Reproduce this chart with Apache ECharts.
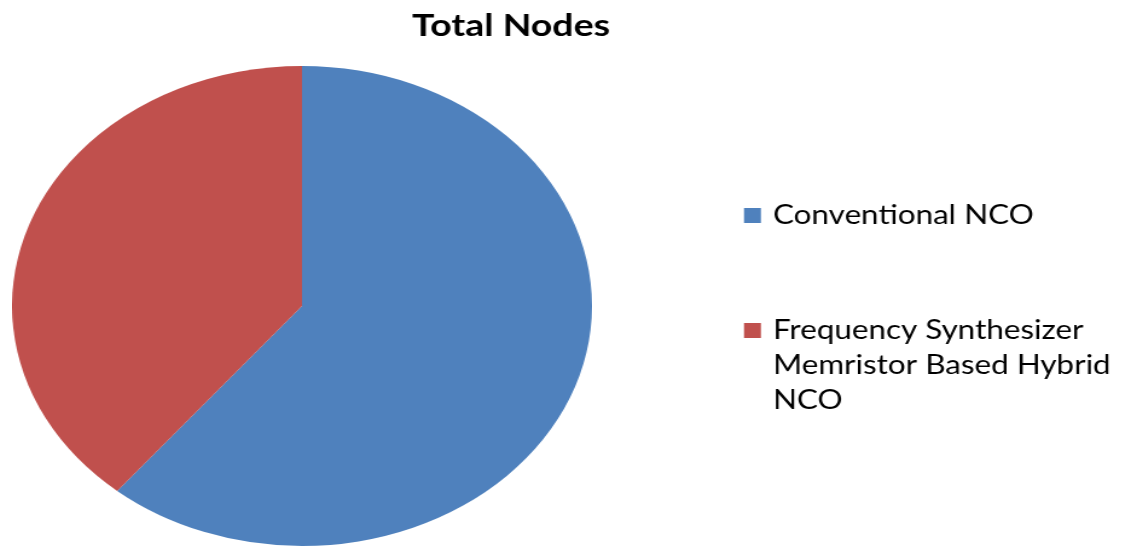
<!DOCTYPE html>
<html>
<head>
<meta charset="utf-8">
<script src="https://cdn.jsdelivr.net/npm/echarts@6/dist/echarts.min.js"></script>
<style>
  html, body { margin: 0; padding: 0; background: #fff; }
  #wrap { position: relative; width: 1133px; height: 546px; overflow: hidden; }
  #main { position: absolute; left: 0; top: 0; width: 938px; height: 546px;
          transform: scaleX(1.2083); transform-origin: 0 0; }
  #pie { position: absolute; left: 62px; top: 66px; width: 480px; height: 480px;
         transform: scaleX(1.2083); transform-origin: 50% 50%; }
</style>
</head>
<body>
<div id="wrap">
  <div id="main"></div>
  <div id="pie"></div>
</div>
<script>
const titleText = 'Total Nodes';
const categories = ['Conventional NCO', 'Frequency Synthesizer Memristor Based Hybrid NCO'];
const legendLines = [['Conventional NCO'], ['Frequency Synthesizer', 'Memristor Based Hybrid', 'NCO']];
const values = [61, 39];
const colors = ['#4F81BD', '#C0504D'];

const fontFam = 'Lato, "Open Sans", sans-serif';
const SX = 1.2083; // horizontal stretch of the original picture

// Pie (drawn in a horizontally stretched box to reproduce the elliptical pie)
const pie = echarts.init(document.getElementById('pie'), null, { renderer: 'canvas' });
pie.setOption({
  animation: false,
  color: colors,
  series: [{
    type: 'pie',
    center: ['50%', '50%'],
    radius: ['0%', '100%'],
    startAngle: 90,
    clockwise: true,
    label: { show: false },
    labelLine: { show: false },
    itemStyle: { borderWidth: 0 },
    data: categories.map((c, i) => ({ name: c, value: values[i] }))
  }]
});

// Title and legend (also stretched horizontally)
const main = echarts.init(document.getElementById('main'), null, { renderer: 'canvas' });
const legendTop = [203, 318];
const graphics = [];
legendLines.forEach((lines, i) => {
  graphics.push({
    type: 'rect', left: 744 / SX, top: legendTop[i] + 5, shape: { width: 14, height: 15 },
    style: { fill: colors[i] }
  });
  graphics.push({
    type: 'text', left: 773 / SX, top: legendTop[i] - 5,
    style: { text: lines.join('\n'), font: '26px ' + fontFam, fill: '#000', lineHeight: 35 }
  });
});
main.setOption({
  animation: false,
  title: {
    text: titleText, left: 505 / SX, top: 5, textAlign: 'center',
    textStyle: { fontFamily: fontFam, fontWeight: 'bold', fontSize: 31, color: '#000' }
  },
  graphic: graphics
});
</script>
</body>
</html>
